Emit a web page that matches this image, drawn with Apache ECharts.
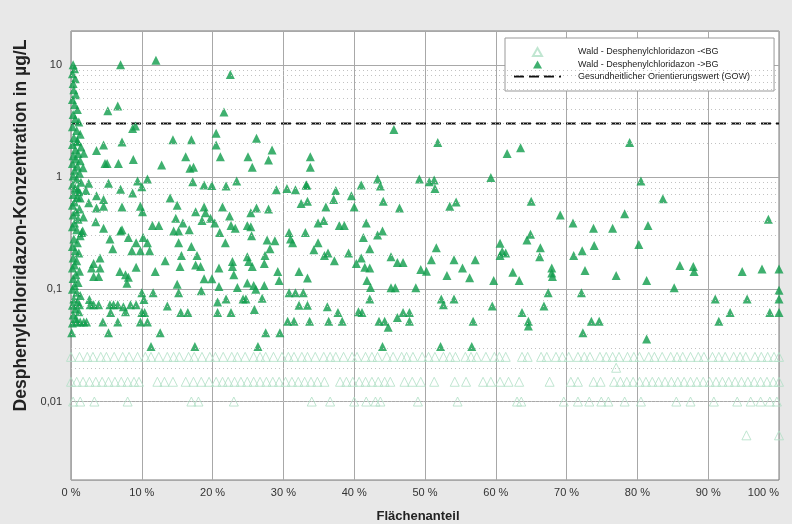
<!DOCTYPE html>
<html>
<head>
<meta charset="utf-8">
<title>Desphenylchloridazon Wald</title>
<script src="https://cdn.jsdelivr.net/npm/echarts@6/dist/echarts.min.js"></script>
<style>
  html, body { margin: 0; padding: 0; background: #e8e8e8; }
  #chart { width: 792px; height: 524px; }
</style>
</head>
<body>
<div id="chart"></div>
<script>
// Grenzwert (GOW) in µg/L
const gowValue = 3

// Beschriftung der y-Achse (log)
const yTickValues = [0.01, 0.1, 1, 10]
const yTickLabels = ['0,01', '0,1', '1', '10']

// Messwerte > BG: Spalte bei 0 % Flächenanteil
const aboveBgZero = [
  [0.3, 10], [0.5, 9.2], [0.2, 8.3], [0.6, 7.5], [0.3, 6.8], [0.4, 6], [0.7, 5.4], [0.2, 4.9],
  [0.5, 4.4], [0.9, 4], [0.3, 3.6], [0.6, 3.3], [1.1, 3.1], [0.2, 2.8], [0.8, 2.6], [1.3, 2.4],
  [0.4, 2.25], [0.9, 2.1], [0.2, 1.95], [1.4, 1.85], [0.6, 1.75], [1.0, 1.62], [0.3, 1.55],
  [0.7, 1.45], [1.3, 1.4], [0.2, 1.32], [0.9, 1.25], [0.5, 1.15], [1.2, 1.08], [0.3, 1.02],
  [0.8, 0.96], [1.4, 0.9], [0.2, 0.85], [0.6, 0.8], [1.1, 0.74], [0.3, 0.7], [0.9, 0.66],
  [0.5, 0.6], [0.2, 0.56], [1.2, 0.52], [0.7, 0.49], [0.3, 0.46], [1.0, 0.42], [0.5, 0.39],
  [0.2, 0.36], [0.8, 0.34], [1.3, 0.3], [0.4, 0.28], [0.9, 0.26], [0.2, 0.24], [0.6, 0.22],
  [1.1, 0.21], [0.3, 0.19], [0.8, 0.18], [0.5, 0.165], [0.2, 0.155], [1.2, 0.145], [0.7, 0.135],
  [0.3, 0.125], [1.0, 0.115], [0.5, 0.108], [0.2, 0.1], [0.8, 0.094], [1.3, 0.088], [0.4, 0.082],
  [0.9, 0.077], [0.2, 0.072], [0.6, 0.067], [1.1, 0.063], [0.3, 0.059], [0.7, 0.055], [0.2, 0.05],
  [0.1, 0.041]
]

// Messwerte > BG: 1 - 34 %
const aboveBgLeft = [
  [7, 10], [12, 11], [22.5, 8.2], [5.2, 3.9], [6.6, 4.3], [21.6, 3.8], [8.7, 2.7], [9.1, 2.85],
  [14.4, 2.15], [17, 2.15], [20.5, 2.45], [20.5, 1.93], [26.2, 2.22], [7.2, 2.05], [4.6, 1.93],
  [3.6, 1.72], [1.8, 1.63], [4.8, 1.32], [5.1, 1.32], [6.7, 1.32], [8.8, 1.43], [12.8, 1.28],
  [16.2, 1.52], [16.8, 1.2], [17.3, 1.22], [21.1, 1.52], [25, 1.52], [25.6, 1.22], [27.9, 1.42],
  [28.4, 1.74], [33.8, 1.52], [33.8, 1.22], [1.7, 1.21], [0.9, 2.06],
  [2.5, 0.88], [5.3, 0.88], [9.4, 0.92], [10.8, 0.96], [10, 0.82], [7, 0.78], [8.7, 0.72],
  [1, 0.78], [2.1, 0.76], [3.6, 0.68], [4.6, 0.63], [1.3, 0.65], [2.5, 0.59], [3.6, 0.53],
  [4.6, 0.55], [7.2, 0.54], [9.8, 0.55], [10.1, 0.49], [14, 0.65], [15, 0.56], [14.8, 0.43],
  [15.8, 0.39], [11.5, 0.37], [12.4, 0.37], [3.5, 0.4], [4.6, 0.35], [1.75, 0.44], [1.65, 0.33],
  [7.2, 0.34], [15.2, 0.33],
  [17.2, 0.91], [18.8, 0.85], [19.9, 0.84], [21.9, 0.83], [23.4, 0.92], [29, 0.77], [30.5, 0.79],
  [31.7, 0.77], [33.2, 0.85], [32.5, 0.58], [33.4, 0.61], [18.8, 0.54], [17.6, 0.49], [19, 0.48],
  [21.4, 0.54], [26.2, 0.53], [25.4, 0.48], [27.9, 0.52], [19.7, 0.43], [20.3, 0.39], [18.5, 0.41],
  [22.4, 0.45], [22.6, 0.37], [24.9, 0.37], [25.4, 0.36], [23.2, 0.35], [16.7, 0.34], [21, 0.32],
  [30.8, 0.32], [33.1, 0.32],
  [1.5, 0.32], [7, 0.33], [8.1, 0.29], [9.2, 0.26], [5.5, 0.28], [5.9, 0.23], [8.6, 0.22],
  [9.8, 0.22], [10.2, 0.29], [10.8, 0.26], [11.1, 0.22], [4.1, 0.19], [3.2, 0.17], [2.9, 0.155],
  [4.1, 0.155], [3.2, 0.13], [3.9, 0.13], [6.9, 0.144], [7.7, 0.135], [8.1, 0.128], [7.9, 0.113],
  [9.2, 0.157], [11.9, 0.144], [13.3, 0.18], [14.5, 0.33], [15.2, 0.26], [15.6, 0.2], [15.4, 0.16],
  [15, 0.111], [2.6, 0.081], [2.7, 0.073], [3.2, 0.073], [1.2, 0.073], [3.9, 0.073], [5.5, 0.073],
  [6, 0.073], [6.6, 0.073], [5.6, 0.062], [7.7, 0.063], [8.4, 0.073], [9.2, 0.073], [7.4, 0.07],
  [10, 0.093], [10.3, 0.081], [11.6, 0.093], [10, 0.062], [10.4, 0.062], [13.6, 0.071],
  [15.2, 0.093], [15.5, 0.062], [0.8, 0.051], [1.3, 0.051], [1.8, 0.051], [2.2, 0.051],
  [4.5, 0.051], [6.6, 0.051], [9.8, 0.051], [10.8, 0.051], [12.6, 0.041], [5.3, 0.041],
  [11.3, 0.031],
  [25.5, 0.3], [21.8, 0.26], [27.7, 0.275], [28.8, 0.27], [28.1, 0.23], [31, 0.28], [31.3, 0.26],
  [17, 0.24], [17.8, 0.2], [17.6, 0.165], [18.3, 0.16], [20.9, 0.155], [22.8, 0.177], [22.8, 0.16],
  [23, 0.135], [24.9, 0.195], [25.1, 0.177], [25.6, 0.16], [27.4, 0.2], [27.3, 0.17], [29.2, 0.144],
  [29.4, 0.12], [32.2, 0.144], [33.4, 0.126], [18.8, 0.124], [19.9, 0.124], [20.9, 0.106],
  [18.4, 0.097], [23.5, 0.104], [24.9, 0.114], [25.8, 0.108], [26.1, 0.1], [27.3, 0.108],
  [30.8, 0.093], [31.7, 0.093], [32.8, 0.093], [20.7, 0.077], [21.9, 0.082], [24.3, 0.082],
  [24.7, 0.082], [27, 0.083], [32.2, 0.072], [33.4, 0.072], [16.5, 0.062], [20.7, 0.062],
  [22.6, 0.062], [25.9, 0.066], [30.6, 0.052], [31.5, 0.052], [33.7, 0.052], [27.5, 0.041],
  [29.5, 0.041], [17.5, 0.031], [26.4, 0.031]
]

// Messwerte > BG: 34 - 100 %
const aboveBgRight = [
  [45.6, 2.65], [51.8, 2.03], [61.6, 1.62], [63.5, 1.82], [33.3, 0.85], [43.3, 0.96], [43.7, 0.83],
  [41, 0.85], [49.2, 0.96], [50.6, 0.91], [51.3, 0.94], [51.4, 0.79], [59.3, 0.99], [37.4, 0.76],
  [37.1, 0.63], [39.6, 0.68], [44.1, 0.61], [46.4, 0.53], [40, 0.54], [36, 0.54], [53.5, 0.55],
  [54.4, 0.6], [65, 0.61], [34.9, 0.39], [35.7, 0.41], [37.9, 0.37], [38.6, 0.37], [41.7, 0.39],
  [43.3, 0.305], [44, 0.33], [41.3, 0.29], [34.9, 0.26], [34.3, 0.225], [35.8, 0.2], [36.3, 0.21],
  [37.2, 0.18], [39.2, 0.21], [42.2, 0.23], [41, 0.19], [40.3, 0.17], [41.5, 0.157], [42.2, 0.155],
  [45.2, 0.195], [46.1, 0.173], [46.9, 0.173], [51.6, 0.235], [50.9, 0.183], [49.4, 0.15],
  [50.2, 0.145], [54.1, 0.183], [55.3, 0.155], [57.1, 0.183], [53.1, 0.133], [56.3, 0.127],
  [60.6, 0.257], [60.9, 0.217], [61.4, 0.21], [60.6, 0.2], [64.9, 0.31], [64.4, 0.275],
  [66.3, 0.235], [66.2, 0.195], [59.7, 0.12], [62.4, 0.142], [63.3, 0.12],
  [36.2, 0.07], [37.7, 0.062], [41.1, 0.062], [40.6, 0.063], [42.2, 0.082], [36.4, 0.052],
  [38.3, 0.052], [43.5, 0.052], [44.3, 0.052], [44.8, 0.046], [46.1, 0.056], [46.9, 0.062],
  [47.8, 0.062], [47.8, 0.052], [45.2, 0.103], [45.8, 0.103], [48.7, 0.103], [52.3, 0.082],
  [52.6, 0.073], [54.1, 0.082], [56.8, 0.052], [59.5, 0.071], [63.7, 0.062], [64.6, 0.052],
  [64.6, 0.047], [44, 0.031], [52.2, 0.031], [56.6, 0.031], [41.8, 0.12], [42.3, 0.104],
  [78.9, 2.03], [80.5, 0.92], [83.6, 0.64], [69.1, 0.46], [70.9, 0.39], [73.8, 0.35], [76.5, 0.35],
  [78.2, 0.47], [81.5, 0.37], [98.5, 0.42], [71, 0.2], [72.2, 0.22], [73.9, 0.245], [80.2, 0.25],
  [67.9, 0.155], [67.9, 0.14], [68, 0.13], [72.6, 0.147], [77, 0.133], [81.3, 0.12], [86, 0.163],
  [87.9, 0.16], [88, 0.144], [94.8, 0.144], [97.6, 0.152], [100, 0.152], [67.4, 0.093],
  [72.1, 0.093], [85.2, 0.103], [91, 0.082], [95.5, 0.082], [100, 0.098], [100, 0.082],
  [93.1, 0.062], [91.5, 0.052], [98.7, 0.062], [100, 0.062], [66.8, 0.071], [73.5, 0.052],
  [74.6, 0.052], [72.3, 0.041], [81.3, 0.036]
]

// Messwerte < BG: Flächenanteile je Konzentrationsstufe
const belowBgX025 = [
  0, 1.2, 2.3, 3.1, 4.2, 5, 6.1, 7.3, 8.2, 9.4, 10.5, 11.3, 12.4, 13.6, 14.5, 15.3, 16.6, 17.4,
  18.5, 19.6, 20.4, 21.5, 22.7, 23.5, 24.6, 25.8, 26.7, 27.5, 28.6, 29.8, 30.7, 31.5, 32.6, 33.4,
  34.5, 35.7, 36.6, 37.4, 38.5, 39.7, 40.4, 41.6, 42.5, 43.3, 44.6, 45.5, 46.7, 47.4, 48.3, 49.6,
  50.5, 51.4, 52.6, 53.5, 54.3, 55.7, 56.5, 57.3, 58.6, 59.8, 60.5, 61.4, 63.7, 64.5, 66.4, 67.2,
  68.5, 69.4, 70.3, 71.6, 72.5, 73.3, 74.7, 75.6, 76.5, 77.4, 78.6, 79.5, 80.3, 81.6, 82.4, 83.5,
  84.7, 85.6, 86.4, 87.5, 88.6, 89.4, 90.6, 91.5, 92.4, 93.6, 94.5, 95.3, 96.6, 97.5, 98.4, 99.3, 100
]
const belowBgX015 = [
  0, 0.8, 1.7, 2.6, 3.5, 4.4, 5.3, 6.2, 7.1, 8, 8.9, 9.6, 12.2, 13.2, 14.4, 16.2, 17.3, 18.4,
  19.5, 20.5, 21.4, 22.2, 23.1, 24, 24.9, 25.8, 26.7, 27.6, 28.5, 29.4, 30.3, 31.2, 32.1, 33,
  33.9, 34.8, 35.8, 38, 38.9, 39.8, 40.7, 41.6, 42.5, 43.4, 44.3, 45.1, 47.1, 48.2, 49.4, 51.3,
  54.2, 55.8, 58.2, 59.3, 60.6, 61.8, 63.3, 67.6, 70.6, 71.6, 73.8, 74.8, 76.7, 77.6, 78.5, 79.4,
  80.3, 81.2, 82.1, 83, 83.9, 84.8, 85.7, 86.6, 87.5, 88.4, 89.3, 90.2, 91.1, 92, 92.9, 93.8,
  94.7, 95.6, 96.5, 97.4, 98.3, 99.2, 100
]
const belowBgX010 = [
  0.3, 1.3, 3.3, 8, 17, 18, 23, 34, 36.6, 40, 41.7, 43, 43.7, 49, 54.6, 63, 63.6, 69.6, 71.6,
  73.2, 74.9, 75.9, 78.2, 80.5, 85.5, 87.5, 90.8, 94.1, 96, 97.4, 98.7, 99.7
]
const belowBgOther = [[77, 0.02], [95.4, 0.005], [100, 0.005]]

const belowBg = [].concat(
  belowBgX025.map(x => [x, 0.025]),
  belowBgX015.map(x => [x, 0.015]),
  belowBgX010.map(x => [x, 0.01]),
  belowBgOther
)
const aboveBg = [].concat(aboveBgZero, aboveBgLeft, aboveBgRight)

// feine Hilfslinien 2..9 je Dekade
const minorLines = []
;[0.001, 0.01, 0.1, 1, 10].forEach(d => {
  for (let m = 2; m <= 9; m++) {
    const v = +(d * m).toPrecision(3)
    if (v > 0.002 && v < 20) minorLines.push({ yAxis: v })
  }
})

const font = 'Liberation Sans, Arial, sans-serif'
const green = '#0f9c4b'
// Legenden-Dreieck mittig in einem 47x8 Feld (damit es nicht gestreckt wird)
const legendTriangle = 'path://M0,8L0,8M47,8L47,8M19,8L23.5,0L28,8Z'

const chart = echarts.init(document.getElementById('chart'))
chart.setOption({
  animation: false,
  backgroundColor: '#e8e8e8',
  textStyle: { fontFamily: font },
  grid: {
    left: 71,
    right: 13,
    top: 31,
    bottom: 44,
    outerBoundsMode: 'none',
    show: true,
    backgroundColor: '#fff',
    borderColor: '#7a7a7a',
    borderWidth: 1
  },
  legend: {
    orient: 'vertical',
    left: 505,
    top: 38,
    padding: [9, 24, 10, 8],
    itemGap: 3,
    itemWidth: 47,
    itemHeight: 8,
    backgroundColor: '#fff',
    borderColor: '#999',
    borderWidth: 1,
    selectedMode: false,
    textStyle: { fontSize: 9, color: '#222', fontFamily: font, padding: [0, 0, 0, 12] },
    data: [
      { name: 'Wald - Desphenylchloridazon -<BG', icon: legendTriangle },
      { name: 'Wald - Desphenylchloridazon ->BG', icon: legendTriangle },
      { name: 'Gesundheitlicher Orientierungswert (GOW)', itemStyle: { opacity: 0 } }
    ]
  },
  xAxis: {
    type: 'value',
    min: 0,
    max: 100,
    interval: 10,
    name: 'Flächenanteil',
    nameLocation: 'middle',
    nameGap: 30,
    nameTextStyle: { fontSize: 13, fontWeight: 'bold', color: '#222', padding: [0, 14, 0, 0] },
    axisLine: { show: false },
    axisTick: { show: false },
    axisLabel: { fontSize: 11, color: '#333', margin: 7, alignMaxLabel: 'right', formatter: v => v + ' %' },
    splitLine: { show: true, lineStyle: { color: '#a8a8a8', width: 1 } }
  },
  yAxis: {
    type: 'log',
    logBase: 10,
    min: 0.002,
    max: 20,
    name: 'Desphenylchloridazon-Konzentration in µg/L',
    nameLocation: 'middle',
    nameRotate: 90,
    nameGap: 41,
    nameTextStyle: { fontSize: 17.5, fontWeight: 'bold', color: '#222', padding: [0, 0, 0, 60] },
    axisLine: { show: false },
    axisTick: { show: false },
    axisLabel: {
      fontSize: 11,
      color: '#333',
      margin: 9,
      formatter: v => {
        const i = yTickValues.findIndex(t => Math.abs(Math.log10(t) - Math.log10(v)) < 1e-6)
        return i >= 0 ? yTickLabels[i] : ''
      }
    },
    splitLine: { show: true, lineStyle: { color: '#a8a8a8', width: 1 } }
  },
  series: [
    {
      name: 'Wald - Desphenylchloridazon -<BG',
      type: 'scatter',
      symbol: 'triangle',
      symbolSize: 9,
      itemStyle: { color: 'rgba(255,255,255,0)', borderColor: '#b0e0c6', borderWidth: 1 },
      z: 3,
      data: belowBg
    },
    {
      name: 'Wald - Desphenylchloridazon ->BG',
      type: 'scatter',
      symbol: 'triangle',
      symbolSize: 9,
      itemStyle: { color: green },
      z: 4,
      data: aboveBg
    },
    {
      name: 'Gesundheitlicher Orientierungswert (GOW)',
      type: 'line',
      symbol: 'none',
      z: 2,
      itemStyle: { color: '#111' },
      lineStyle: { color: '#111', width: 2, type: [10, 5] },
      data: [[0, gowValue], [100, gowValue]]
    },
    {
      name: 'hilfslinien',
      type: 'line',
      data: [],
      z: 1,
      silent: true,
      markLine: {
        silent: true,
        symbol: 'none',
        label: { show: false },
        lineStyle: { color: '#c2c2c2', width: 1, type: [1, 3] },
        data: minorLines
      }
    }
  ]
})
</script>
</body>
</html>
